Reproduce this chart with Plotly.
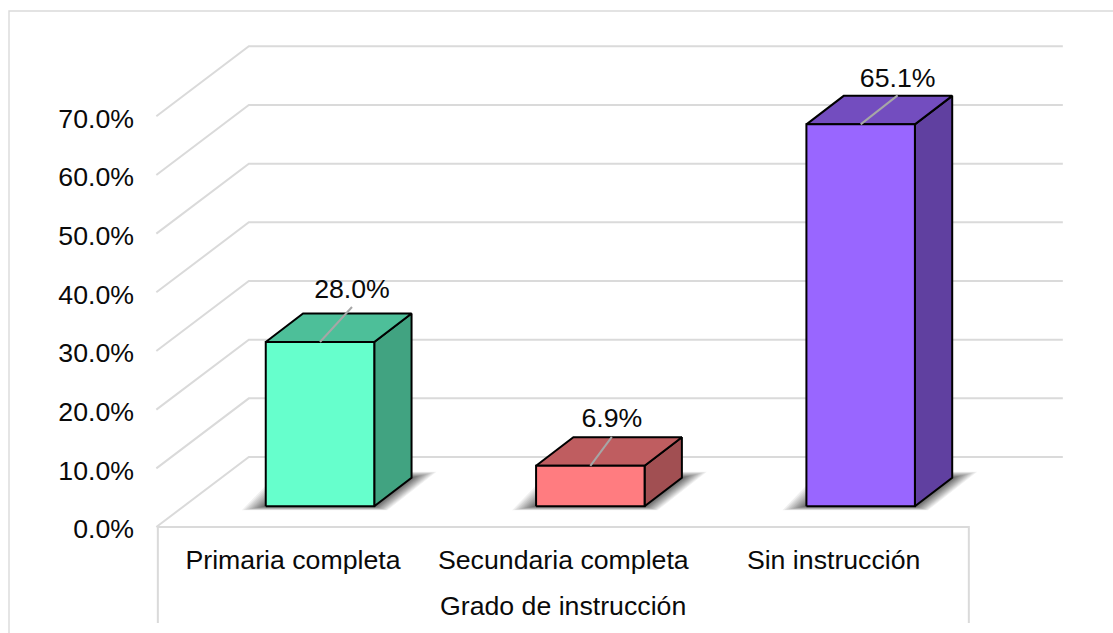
import plotly.graph_objects as go

# --- data ---
categories = ["Primaria completa", "Secundaria completa", "Sin instrucción"]
values = [28.0, 6.9, 65.1]
value_labels = ["28.0%", "6.9%", "65.1%"]
tick_values = [0, 10, 20, 30, 40, 50, 60, 70]
tick_labels = ["0.0%", "10.0%", "20.0%", "30.0%", "40.0%", "50.0%", "60.0%", "70.0%"]
axis_title = "Grado de instrucción"
front_colors = ["#66FFCC", "#FF7C80", "#9966FF"]
top_colors = ["#4DBF99", "#BF5D60", "#734DBF"]
side_colors = ["#41A381", "#A14F52", "#6040A0"]
# leader-line end relative to the bar's top front centre, in pixels
label_dx = [32, 21.5, 37]
label_dy = [35, 29, 29]
label_gap = [16, 16, 15]

# --- geometry / style ---
W, H = 1113, 633
PX_X = 270.33          # pixels per category
PX_Y = 5.867           # pixels per percentage point
X0_PX, Y0_PX = 293.0, 527.0
PLOT_LEFT = 140
FONT = "Liberation Sans, Arial, sans-serif"
FS = 26.7
GRID = "#DADADA"
INK = "#0A0A0A"


def ux(px):
    return px / PX_X


def uy(px):
    return px / PX_Y


x_range = [(PLOT_LEFT - X0_PX) / PX_X, (W - X0_PX) / PX_X]
y_range = [(Y0_PX - H) / PX_Y, Y0_PX / PX_Y]

fig = go.Figure()


def poly(xs, ys, fill=None, line=None, width=1.0):
    fig.add_trace(go.Scatter(
        x=xs, y=ys, mode="lines",
        fill="toself" if fill else None, fillcolor=fill,
        line=dict(color=line or "rgba(0,0,0,0)", width=width if line else 0),
        hoverinfo="skip", showlegend=False))


# walls and floor
left_edge, right_edge = -0.5, 2.5
wall_dx, wall_dx_r, wall_dy = ux(91), ux(94), uy(70)
for t in tick_values:
    poly([left_edge - ux(1.5), left_edge + wall_dx, right_edge + wall_dx_r],
         [t, t + wall_dy, t + wall_dy], line=GRID, width=2)
poly([left_edge, left_edge, right_edge, right_edge],
     [uy(-96), 0, 0, uy(-96)], line=GRID, width=2)

# bars
bar_shift, bar_w = ux(27), ux(108.5)
base = uy(20.7)
side_dx, side_dy = ux(37.3), uy(28.5)

# soft shadows on the floor
layers = 16
for i in range(len(values)):
    c = i + bar_shift
    l, r = c - bar_w / 2, c + bar_w / 2
    for k in range(layers):
        t = (1 - k / (layers - 1)) ** 1.3
        poly([l - ux(24 * t), r + ux(13 * t), r + side_dx + ux(25 * t), l + side_dx - ux(24 * t)],
             [base - uy(4 * t), base - uy(4 * t), base + side_dy + uy(6 * t), base + side_dy + uy(6 * t)],
             fill="rgba(0,0,0,0.06)")

for i, v in enumerate(values):
    c = i + bar_shift
    l, r = c - bar_w / 2, c + bar_w / 2
    top = base + v
    poly([r, r + side_dx, r + side_dx, r, r],
         [base, base + side_dy, top + side_dy, top, base],
         fill=side_colors[i], line="#000000", width=2)
    poly([l, l + side_dx, r + side_dx, r, l],
         [top, top + side_dy, top + side_dy, top, top],
         fill=top_colors[i], line="#000000", width=2)
    poly([l, r, r, l, l], [base, base, top, top, base],
         fill=front_colors[i], line="#000000", width=2)
    # leader line and data label
    lx, ly = c + ux(label_dx[i]), top + uy(label_dy[i])
    poly([c, lx], [top, ly], line="#A6A6A6", width=2)
    fig.add_trace(go.Scatter(
        x=[lx], y=[ly + uy(label_gap[i])], mode="text", text=[value_labels[i]],
        textposition="middle center", cliponaxis=False,
        textfont=dict(family=FONT, size=FS, color=INK),
        hoverinfo="skip", showlegend=False))

fig.update_layout(
    width=W, height=H, margin=dict(l=0, r=0, t=0, b=0, autoexpand=False),
    paper_bgcolor="#FFFFFF", plot_bgcolor="rgba(0,0,0,0)", showlegend=False,
    font=dict(family=FONT, size=FS, color=INK),
    xaxis=dict(
        domain=[PLOT_LEFT / W, 1], range=x_range, anchor="free", side="bottom",
        position=(H - Y0_PX) / H,
        tickmode="array", tickvals=[0, 1, 2], ticktext=categories,
        showgrid=False, zeroline=False, showline=False, ticks="",
        ticklabelstandoff=14, tickangle=0, automargin=False,
    ),
    yaxis=dict(
        domain=[0, 1], range=y_range,
        tickmode="array", tickvals=tick_values, ticktext=tick_labels,
        showgrid=False, zeroline=False, showline=False, ticks="",
        ticklabelstandoff=5, ticklabelshift=2, automargin=False,
    ),
    annotations=[dict(text=axis_title, x=1, xref="x", y=uy(-79), yref="y",
                      showarrow=False, xanchor="center", yanchor="middle",
                      font=dict(family=FONT, size=FS, color=INK))],
    shapes=[dict(type="rect", xref="paper", yref="paper",
                 x0=9 / W, x1=1.02, y0=-0.02, y1=(H - 11) / H,
                 line=dict(color=GRID, width=1.4), layer="below")],
)

fig.write_html("out.html", config={"displayModeBar": False},
               post_script="document.body.style.margin='0';")
